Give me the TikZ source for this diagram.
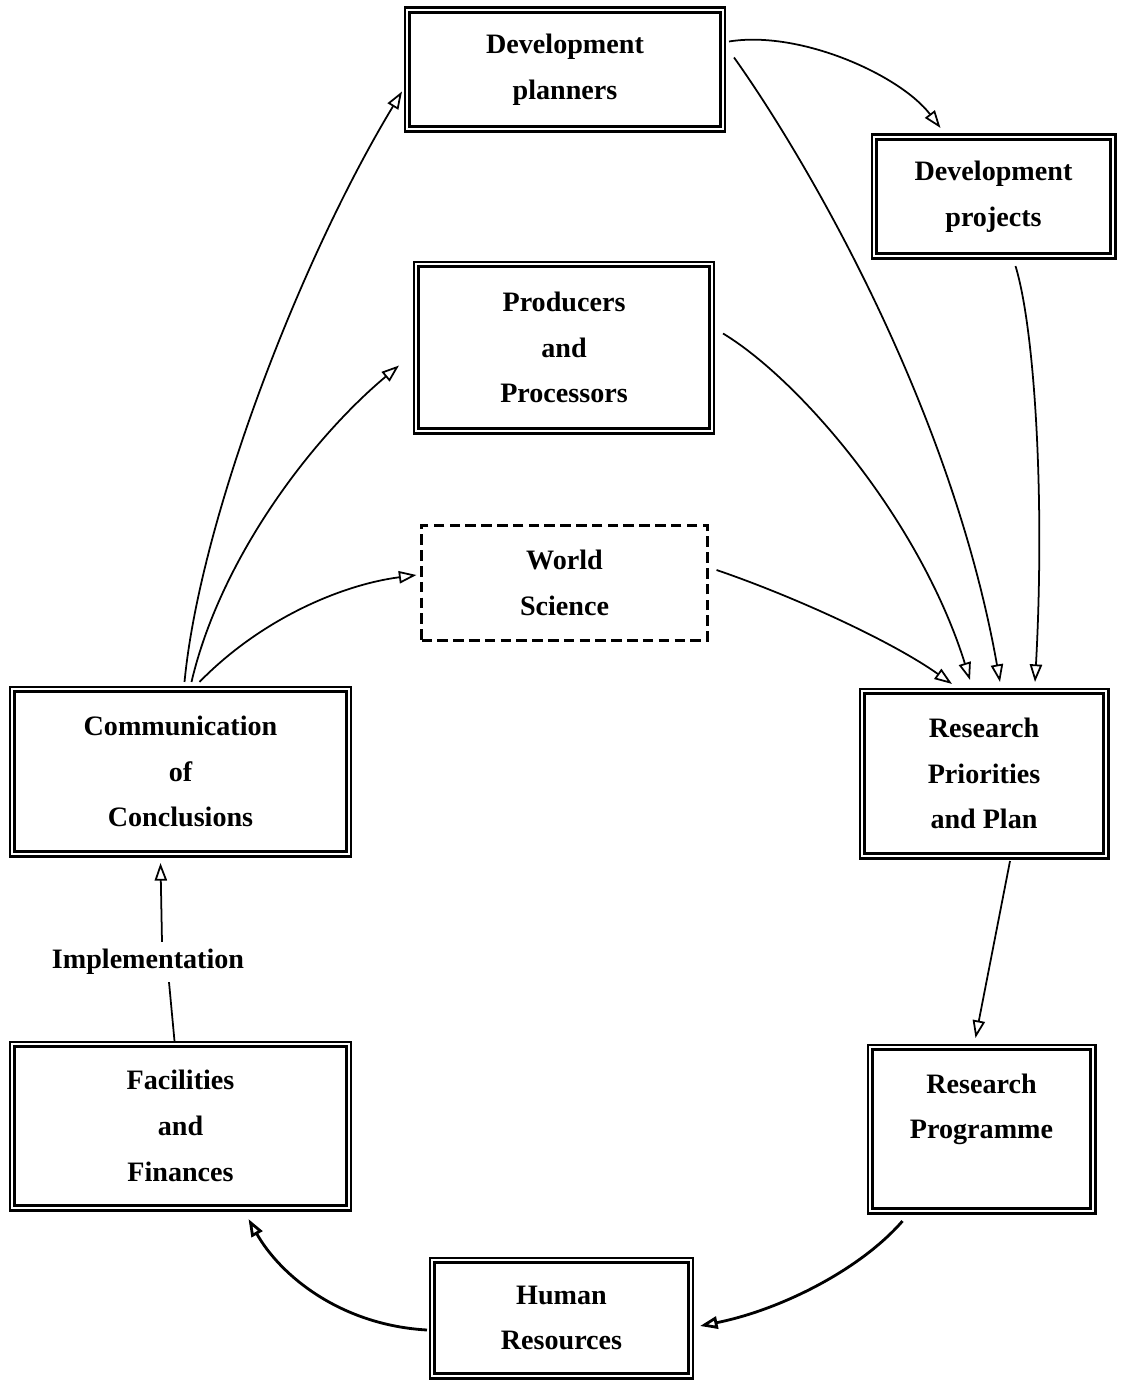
\documentclass[tikz,border=0pt]{standalone}
\usepackage{fontspec}
\setmainfont{Liberation Serif}
\usetikzlibrary{arrows.meta,calc}

\begin{document}
\begin{tikzpicture}[x=0.02cm,y=-0.02cm,
            box/.style={draw, double, line width=1.2pt, double distance=1.6pt,
                align=center, inner sep=0pt,
                font=\fontsize{16}{26}\selectfont\bfseries},
            dashbox/.style={draw, line width=1.2pt, dash pattern=on 6pt off 3pt,
                align=center, inner sep=0pt,
                font=\fontsize{16}{26}\selectfont\bfseries},
            link/.style={line width=1pt, -{Triangle[open,length=10pt,width=7pt]}},
            heavylink/.style={line width=1.6pt, -{Triangle[open,length=10pt,width=7pt]}}]

            \useasboundingbox (0,0) rectangle (1124,1382);

            \node[box, minimum width=6.32cm, minimum height=2.38cm] (planners) at (565,69.5)
            {Development\\planners};
            \node[box, minimum width=4.78cm, minimum height=2.38cm] (projects) at (993.5,196.5)
            {Development\\projects};
            \node[box, minimum width=5.92cm, minimum height=3.34cm] (producers) at (564,347.5)
            {Producers\\and\\Processors};
            \node[dashbox, minimum width=5.72cm, minimum height=2.3cm] (science) at (564.5,583)
            {World\\Science};
            \node[box, minimum width=6.74cm, minimum height=3.3cm] (communication) at (180.5,771.5)
            {Communication\\of\\Conclusions};
            \node[box, minimum width=4.88cm, minimum height=3.3cm] (priorities) at (984,773.5)
            {Research\\Priorities\\and Plan};
            \node[box, minimum width=6.74cm, minimum height=3.28cm] (facilities) at (180.5,1126)
            {Facilities\\and\\Finances};
            \node[box, minimum width=4.46cm, minimum height=3.28cm] (programme) at (981.5,1129)
            {Research\\Programme\\\rule{0pt}{1pt}};
            \node[box, minimum width=5.18cm, minimum height=2.32cm] (human) at (561.5,1318)
            {Human\\Resources};
            \node[font=\fontsize{16}{19}\selectfont\bfseries, inner sep=4pt] (implementation) at (148,962)
            {Implementation};

            \draw[link] ($(planners.east)+(5,-28)$) .. controls (800,30) and (900,75) .. ($(projects.north)+(-53,-8)$);
            \draw[link] ($(planners.east)+(10,-12)$) .. controls (800,150) and (950,400) .. ($(priorities.north)+(16,-8)$);
            \draw[link] ($(projects.south)+(22,9)$) .. controls (1035,330) and (1045,500) .. ($(priorities.north)+(51,-8)$);
            \draw[link] ($(producers.east)+(10,-14)$) .. controls (800,380) and (920,520) .. ($(priorities.north)+(-14,-10)$);
            \draw[link] ($(science.east)+(8,-13)$) .. controls (790,595) and (890,640) .. ($(priorities.north)+(-32,-6)$);

            \draw[link] ($(communication.north)+(4,-6)$) .. controls (200,520) and (300,260) .. ($(planners.west)+(-4,22)$);
            \draw[link] ($(communication.north)+(11,-6)$) .. controls (220,560) and (310,440) .. ($(producers.west)+(-16,18)$);
            \draw[link] ($(communication.north)+(19,-6)$) .. controls (260,620) and (340,585) .. ($(science.west)+(-4,-8)$);

            \draw[link] ($(priorities.south)+(26,4)$) -- ($(programme.north)+(-6,-8)$);
            \draw[heavylink] ($(programme.south)+(-79,9)$) .. controls (860,1270) and (780,1310) .. ($(human.east)+(8,8)$);
            \draw[heavylink] ($(human.west)+(-4,12)$) .. controls (340,1325) and (280,1275) .. ($(facilities.south)+(68,10)$);

            \draw[line width=1pt] ($(facilities.north)+(-6,-2)$) -- ($(implementation.south)+(21,0)$);
            \draw[link] ($(implementation.north)+(14,0)$) -- ($(communication.south)+(-20,8)$);
        \end{tikzpicture}
\end{document}
